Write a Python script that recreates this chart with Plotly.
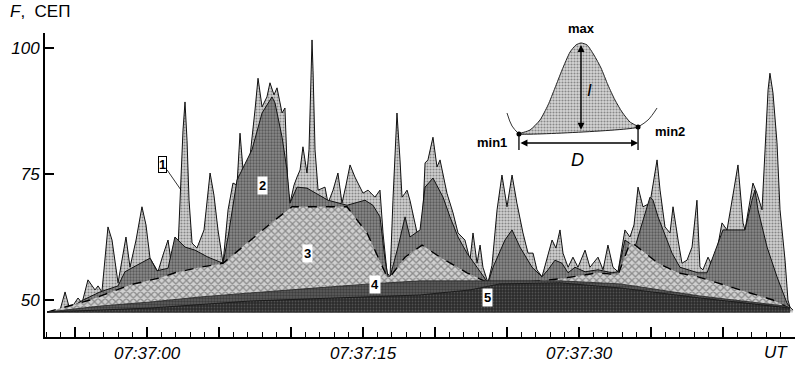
import plotly.graph_objects as go

# time in seconds relative to 07:37:00 UT, F in SEP units
t1 = [-6.94,-6.04,-5.69,-5.35,-4.79,-4.51,-4.10,-3.61,-3.40,-3.13,-2.71,-2.43,-2.01,-1.46,-1.18,-0.76,-0.35,-0.07,0.21,0.76,
      1.11,1.46,1.74,2.01,2.15,2.36,2.50,2.64,2.78,2.92,3.13,3.47,3.96,4.38,4.65,4.93,5.28,5.63,5.97,6.25,
      6.46,6.67,7.15,7.50,7.71,7.99,8.33,8.54,8.82,9.03,9.38,9.58,9.79,9.93,10.21,10.42,10.63,10.83,11.11,11.25,
      11.39,11.46,11.53,11.67,11.88,12.36,12.57,12.92,13.26,13.54,13.82,14.10,14.44,15.00,15.35,15.83,16.18,16.39,16.67,16.88,
      17.08,17.36,17.57,17.71,17.92,18.06,18.26,18.61,18.82,19.10,19.31,19.51,19.65,19.86,20.14,20.35,20.83,21.25,21.60,22.08,
      22.43,22.64,22.92,23.13,23.33,23.68,23.96,24.31,24.65,25.00,25.35,25.69,26.11,26.46,26.81,27.08,27.43,27.78,28.13,28.40,
      28.68,28.89,29.24,29.58,29.93,30.42,30.76,31.32,31.67,32.01,32.36,32.71,33.19,33.54,33.82,34.10,34.44,34.93,35.42,35.63,
      35.97,36.32,36.53,36.88,37.15,37.50,37.85,38.19,38.40,38.61,38.96,39.31,39.65,39.93,40.28,40.69,41.04,41.39,41.53,41.88,
      42.08,42.36,42.71,42.92,43.13,43.26,43.47,43.75,43.96,44.31,44.51,44.65,44.86]
f1 = [47.6,48.0,51.6,48.0,50.4,49.4,54.0,52.0,52.8,51.6,64.5,61.9,53.4,62.5,56.5,61.9,68.5,64.9,58.3,55.6,
      58.9,61.9,56.3,57.5,59.9,73.8,83.7,89.3,81.7,69.8,61.3,60.3,63.9,75.2,70.8,63.9,57.3,67.9,73.2,72.8,
      83.1,75.8,78.4,87.7,94.0,88.3,90.3,93.1,90.7,92.1,87.1,88.1,71.8,69.2,72.8,74.4,75.8,80.4,75.2,79.8,
      93.7,101.6,95.6,79.8,71.8,72.4,69.2,71.8,75.2,69.2,72.8,76.8,74.4,71.2,71.8,70.4,71.8,63.3,55.4,54.6,
      69.8,87.1,77.8,70.4,71.2,71.8,69.8,65.3,62.5,63.3,77.2,77.8,79.8,82.3,76.4,77.8,71.2,67.3,63.3,61.9,
      57.9,63.3,57.3,60.9,56.5,53.4,56.9,67.9,74.8,68.5,74.8,69.2,63.3,59.3,59.3,56.0,54.6,58.3,61.9,60.3,
      63.9,59.3,56.5,58.5,56.5,59.9,56.5,58.5,56.0,60.9,56.5,55.6,63.9,62.5,64.9,72.4,68.5,69.2,77.8,71.8,
      64.5,63.3,68.5,61.9,57.3,57.9,60.5,69.8,56.5,56.0,58.5,56.5,60.9,65.3,63.9,70.8,76.8,65.3,63.9,69.8,
      73.2,71.2,67.9,79.8,91.7,95.0,91.1,81.2,67.9,57.9,50.0,48.6,48.0]

t2 = [-6.94,-5.35,-4.44,-3.26,-2.01,-1.53,-0.83,0.21,0.69,1.46,1.94,2.64,3.33,4.24,5.28,5.63,6.25,7.29,7.99,8.68,
      8.89,9.38,9.72,9.93,10.42,11.11,12.57,13.89,15.14,15.69,16.18,16.53,16.74,16.88,17.43,17.92,18.26,18.96,19.31,19.86,
      20.56,21.04,21.60,22.22,22.92,23.68,24.03,24.86,25.35,25.90,26.74,27.43,27.85,28.33,28.82,29.24,29.72,30.42,31.32,32.29,
      32.71,33.19,33.89,34.93,35.14,35.49,36.46,37.01,38.26,38.89,40.00,41.53,42.01,42.22,42.43,43.06,43.75,44.44,44.65]
f2 = [47.6,48.4,50.0,51.6,52.8,55.6,56.7,58.3,55.8,56.3,62.5,60.5,59.9,58.5,57.3,62.5,73.8,79.8,87.1,90.3,
      89.1,82.3,75.8,69.2,72.4,72.2,69.8,68.8,69.8,68.8,66.5,58.0,54.6,54.6,60.5,66.5,62.5,63.9,72.4,74.2,
      70.4,66.5,62.5,59.3,56.5,53.4,56.5,61.9,63.9,60.5,56.5,54.6,56.0,57.9,57.3,55.4,56.5,55.6,56.0,55.4,
      55.6,61.9,60.5,70.4,69.8,66.5,59.3,56.5,55.4,55.4,63.9,63.9,69.8,71.8,67.9,60.5,54.6,49.4,48.6]

t3 = [-6.94,-3.96,-1.18,0.90,1.94,3.33,5.28,6.60,7.99,8.89,10.07,13.89,15.28,16.67,16.88,17.92,19.10,20.35,22.22,23.68,
      25.90,28.68,31.32,32.71,33.54,33.89,35.49,36.88,38.26,41.18,43.47,44.44,44.65]
f3 = [47.6,50.0,53.0,54.4,55.4,56.3,57.3,60.5,63.9,65.9,68.5,68.5,63.3,54.6,54.6,58.5,60.9,58.5,55.4,53.4,
      53.4,54.2,55.4,55.0,61.3,60.9,57.3,55.4,54.6,52.0,50.0,48.6,48.4]

t4 = [-6.94,-3.26,0.21,3.68,7.15,10.63,15.49,18.96,23.82,28.68,32.85,38.40,44.31,44.65]
f4 = [47.6,48.8,49.6,50.6,51.4,52.2,53.2,53.8,53.8,53.8,53.2,50.8,48.8,48.4]

t5 = [-6.94,0.21,7.15,12.71,18.96,22.43,24.51,28.68,32.85,38.40,44.31,44.65]
f5 = [47.6,48.4,49.8,50.4,51.0,52.0,53.2,53.4,52.4,50.4,48.6,48.4]

base_f = 47.5

# schematic inset (peak with min1, max, min2)
bell_t = [25.83,26.60,27.29,27.85,28.33,28.82,29.38,29.79,30.14,30.56,31.04,31.53,32.01,32.50,32.99,33.54,34.10]
bell_f = [82.94,83.73,85.71,88.69,92.06,95.63,99.21,100.6,101.0,100.6,98.61,96.03,92.66,89.68,87.30,85.32,84.33]
ext_left_t = [25.0,25.35,25.83]
ext_left_f = [87.10,84.52,82.94]
ext_right_t = [34.10,34.79,35.42]
ext_right_f = [84.33,85.71,88.10]
min_t = [25.83, 34.10]
min_f = [82.94, 84.33]
max_t = 30.14
max_f = 101.0
d_f = 81.15
tick_bottom_f = 79.76

tick_vals = [0, 15, 30]
tick_text = ["07:37:00", "07:37:15", "07:37:30"]

fig = go.Figure()

def poly(t, f):
    return t + [t[-1], t[0]], f + [base_f, base_f]

styles = [
    (t1, f1, dict(shape='.', bgcolor='#d2d2d2', fgcolor='#3a3a3a', size=3, solidity=0.4)),
    (t2, f2, dict(shape='.', bgcolor='#8a8a8a', fgcolor='#2a2a2a', size=3, solidity=0.45)),
    (t3, f3, dict(shape='x', bgcolor='#d0d0d0', fgcolor='#454545', size=5, solidity=0.45)),
    (t4, f4, dict(shape='.', bgcolor='#5e5e5e', fgcolor='#1e1e1e', size=3, solidity=0.5)),
    (t5, f5, dict(shape='.', bgcolor='#2a2a2a', fgcolor='#7a7a7a', size=3, solidity=0.3)),
]
line_styles = [dict(color='#111', width=1), dict(color='#111', width=1),
               dict(color='black', width=1.4, dash='dash'), dict(color='#222', width=0.8), dict(color='#111', width=0.8)]
for (t, f, pat), ls in zip(styles, line_styles):
    px_, py_ = poly(t, f)
    fig.add_trace(go.Scatter(x=px_, y=py_, fill='toself', mode='none',
                             fillcolor=pat['bgcolor'], fillpattern=pat, showlegend=False, hoverinfo='skip'))
    fig.add_trace(go.Scatter(x=t, y=f, mode='lines', line=ls, showlegend=False, hoverinfo='skip'))

# inset
fig.add_trace(go.Scatter(x=bell_t + [bell_t[0]], y=bell_f + [bell_f[0]], fill='toself', mode='lines',
                         line=dict(color='#222', width=1, shape='spline', smoothing=0.6),
                         fillcolor='#cccccc',
                         fillpattern=dict(shape='.', bgcolor='#d6d6d6', fgcolor='#3a3a3a', size=3, solidity=0.4),
                         showlegend=False, hoverinfo='skip'))
for et, ef in [(ext_left_t, ext_left_f), (ext_right_t, ext_right_f)]:
    fig.add_trace(go.Scatter(x=et, y=ef, mode='lines', line=dict(color='#333', width=1, shape='spline'),
                             showlegend=False, hoverinfo='skip'))
fig.add_trace(go.Scatter(x=min_t, y=min_f, mode='markers', marker=dict(color='black', size=5),
                         showlegend=False, hoverinfo='skip'))
for mt, mf in zip(min_t, min_f):
    fig.add_trace(go.Scatter(x=[mt, mt], y=[mf, tick_bottom_f], mode='lines', line=dict(color='black', width=1.3),
                             showlegend=False, hoverinfo='skip'))

anns = []
# vertical arrow I
anns.append(dict(x=max_t, y=max_f - 0.4, ax=max_t, ay=83.5, xref='x', yref='y', axref='x', ayref='y',
                 showarrow=True, arrowhead=2, arrowside='end+start', arrowsize=1, arrowwidth=1.4, arrowcolor='black', text=''))
# horizontal arrow D
anns.append(dict(x=min_t[1], y=d_f, ax=min_t[0], ay=d_f, xref='x', yref='y', axref='x', ayref='y',
                 showarrow=True, arrowhead=2, arrowside='end+start', arrowsize=1, arrowwidth=1.4, arrowcolor='black', text=''))

bold = dict(family='Liberation Sans, Arial', size=13, color='black')
anns += [
    dict(x=max_t, y=max_f, xref='x', yref='y', text='<b>max</b>', showarrow=False, yanchor='bottom', yshift=5, font=bold),
    dict(x=30.76, y=91.67, xref='x', yref='y', text='<i>I</i>', showarrow=False,
         font=dict(family='Liberation Sans, Arial', size=17, color='black')),
    dict(x=29.93, y=77.78, xref='x', yref='y', text='<i>D</i>', showarrow=False,
         font=dict(family='Liberation Sans, Arial', size=18, color='black')),
    dict(x=23.96, y=81.35, xref='x', yref='y', text='<b>min1</b>', showarrow=False, font=bold),
    dict(x=36.32, y=83.53, xref='x', yref='y', text='<b>min2</b>', showarrow=False, font=bold),
    dict(x=2.36, y=71.83, ax=1.11, ay=76.98, xref='x', yref='y', axref='x', ayref='y', text='<b>1</b>',
         showarrow=True, arrowhead=0, arrowwidth=0.8, arrowcolor='black', bgcolor='white', bordercolor='black',
         borderwidth=1, borderpad=0, font=bold),
    dict(x=7.99, y=72.82, xref='x', yref='y', text='<b>2</b>', showarrow=False, bgcolor='white', borderpad=1, font=bold),
    dict(x=11.18, y=59.13, xref='x', yref='y', text='<b>3</b>', showarrow=False, bgcolor='white', borderpad=1, font=bold),
    dict(x=15.83, y=52.98, xref='x', yref='y', text='<b>4</b>', showarrow=False, bgcolor='white', borderpad=1, font=bold),
    dict(x=23.68, y=50.4, xref='x', yref='y', text='<b>5</b>', showarrow=False, bgcolor='white', borderpad=1, font=bold),
    dict(x=-0.05, y=1.07, xref='paper', yref='paper', xanchor='left', yanchor='middle',
         text='<i>F</i>,  СЕП', showarrow=False, font=dict(family='Liberation Sans, Arial', size=17, color='black')),
    dict(x=0.956, y=-0.05, xref='paper', yref='paper', xanchor='left', yanchor='middle', text='<i>UT</i>',
         showarrow=False, font=dict(family='Liberation Sans, Arial', size=17, color='black')),
]

fig.update_layout(
    width=795, height=365,
    margin=dict(l=45, r=0, t=33, b=28),
    plot_bgcolor='white', paper_bgcolor='white',
    font=dict(family='Liberation Sans, Arial', size=17, color='black'),
    annotations=anns,
    xaxis=dict(range=[-7.083, 45.0], showgrid=False, zeroline=False, showline=True, linecolor='black', linewidth=2,
               tickmode='array', tickvals=[-5, 0, 5, 10, 15, 20, 25, 30, 35, 40],
               ticktext=['', tick_text[0], '', '', tick_text[1], '', '', tick_text[2], '', ''],
               ticks='inside', ticklen=10, tickwidth=1.5, tickcolor='black',
               tickfont=dict(family='Liberation Sans, Arial', size=17, style='italic'),
               minor=dict(ticks='inside', ticklen=5, tickwidth=1.3, tickcolor='black', tick0=0, dtick=1)),
    yaxis=dict(range=[42.66, 102.98], showgrid=False, zeroline=False, showline=True, linecolor='black', linewidth=2,
               tickvals=[50, 75, 100], ticks='inside', ticklen=9, tickwidth=2, tickcolor='black',
               tickfont=dict(family='Liberation Sans, Arial', size=17, style='italic')),
)
fig.write_html("out.html")
